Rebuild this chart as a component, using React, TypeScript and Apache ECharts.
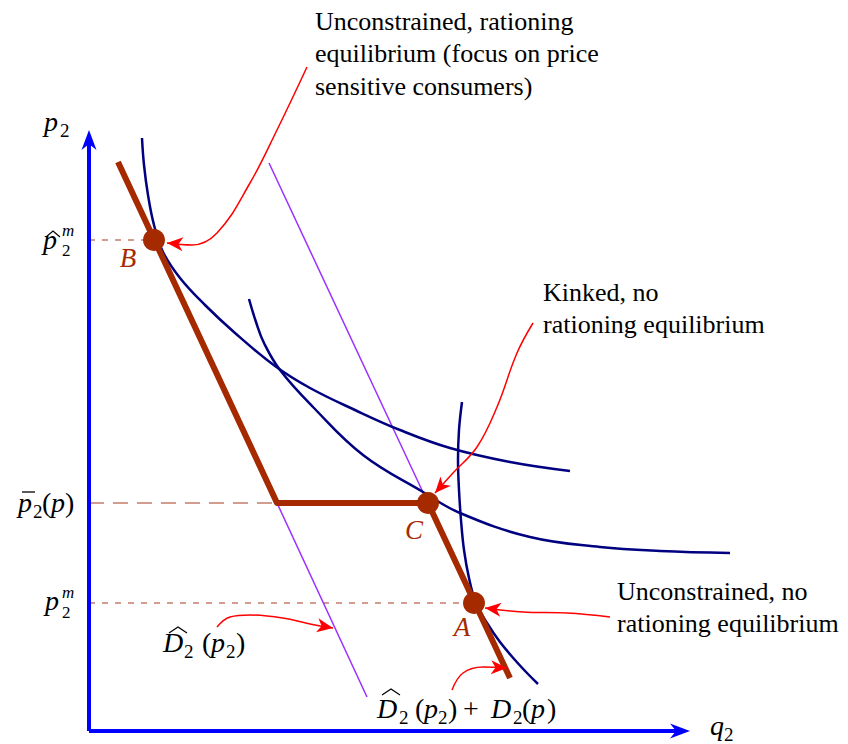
import React, { useEffect, useRef } from "react";
import * as echarts from "echarts";

// Data units: 1 unit = 1 px of the reference, origin at the corner of the axes.
const X_MAX = 759;
const Y_MAX = 731;

const xAxisLine = [[0, 0], [592, 0]];
const yAxisLine = [[0, 0], [0, 592]];
// [tipX, tipY, fromX, fromY]
const axisArrowTips = [[601, 0, 580, 0], [0, 601, 0, 580]];

const demandKinked = [[29, 569], [188, 228], [339, 228], [421, 53]];
const shiftedDemandUpper = [[180, 568], [339, 228]];
const baseDemandLower = [[188, 228], [278, 34]];

const isoCurve1 = [[53, 593], [55, 566], [59, 536], [65, 506], [74, 479], [91, 453], [116, 426], [146, 398], [186, 365], [221, 343], [266, 321], [311, 301], [361, 283], [421, 269], [481, 260]];
const isoCurve2 = [[160, 432], [167, 409], [175, 388], [191, 361], [224, 324], [274, 276], [334, 239], [371, 218], [441, 194], [511, 184], [571, 180], [641, 178]];
const isoCurve3 = [[373, 329], [370, 301], [369, 271], [370, 241], [372, 211], [375, 181], [380, 153], [387, 128], [398, 108], [411, 89], [426, 71], [438, 58], [449, 47]];

const equilibria = [
  { name: "B", value: [65, 491], labelOffset: [-26, 18] },
  { name: "C", value: [339, 228], labelOffset: [-14, 27] },
  { name: "A", value: [385, 128], labelOffset: [-12, 24] },
];

const dashPhatM = [[0, 491], [65, 491]];
const dashPbar = [[0, 228], [339, 228]];
const dashPm = [[0, 128], [385, 128]];

const annB = [[218, 664], [188, 601], [161, 548], [128, 498], [103, 486], [78, 488]];
const annC = [[444, 408], [428, 378], [408, 324], [388, 284], [364, 258], [346, 238]];
const annA = [[521, 114], [478, 118], [434, 119], [396, 123]];
const annD1 = [[128, 104], [141, 114], [161, 116], [194, 113], [221, 107], [244, 103]];
const annD2 = [[363, 41], [374, 58], [394, 64], [418, 63]];
const annotations = [annB, annC, annA, annD1, annD2];

const noteRationing = ["Unconstrained, rationing", "equilibrium (focus on price", "sensitive consumers)"];
const noteKinked = ["Kinked, no", "rationing equilibrium"];
const noteNoRationing = ["Unconstrained, no", "rationing equilibrium"];

// math label pieces: [text, x, baseline, size, italic]
type Piece = [string, number, number, number, boolean?];
const mathPieces: Piece[] = [
  ["p", 44, 131, 28, true], ["2", 60, 137, 19],
  ["q", 710, 735, 28, true], ["2", 724, 741, 19],
  ["p", 43, 249, 28, true],
  ["p", 18, 512, 28, true], ["2", 33, 518, 19], ["(", 42, 512, 28], ["p", 51, 512, 28, true], [")", 65, 512, 28],
  ["p", 45, 610, 28, true],
  ["D", 163, 652, 28, true], ["2", 184, 658, 19], ["(", 202, 652, 28], ["p", 211, 652, 28, true], ["2", 226, 658, 19], [")", 236, 652, 28],
  ["D", 377, 718, 28, true], ["2", 399, 724, 19], ["(", 415, 718, 28], ["p", 424, 718, 28, true], ["2", 438, 724, 19], [")", 448, 718, 28],
  ["+", 463, 718, 28], ["D", 491, 718, 28, true], ["2", 513, 724, 19], ["(", 522, 718, 28], ["p", 531, 718, 28, true], [")", 547, 718, 28],
];
// stacked superscript m over subscript 2: [x, centre y]
const stackedM2 = [[62, 240], [62, 602]];
const hats = [
  [[46, 237], [53, 231], [60, 237]],
  [[169, 633], [178, 627], [187, 633]],
  [[382, 695], [391, 689], [400, 695]],
];
const bars = [[[22, 492], [35, 492]]];

const FONT = "'Liberation Serif', 'Times New Roman', serif";
const BROWN = "#a52a00";
const NAVY = "#000080";
const PURPLE = "#9b30ff";
const RED = "#ff0000";
const BLUE = "#0000ff";
const DASH = "#c47d6a";

function lineSeries(data: number[][], color: string, width: number, opts: any = {}) {
  return {
    type: "line",
    data,
    showSymbol: false,
    symbol: "none",
    silent: true,
    clip: false,
    animation: false,
    lineStyle: { color, width, type: opts.dash || "solid", cap: "butt", join: "round" },
    smooth: opts.smooth || false,
    z: opts.z || 2,
  };
}

function arrowHeads(data: number[][], len: number, half: number, notch: number, color: string, z: number) {
  return {
    type: "custom",
    coordinateSystem: "cartesian2d",
    data,
    silent: true,
    clip: false,
    z,
    renderItem: (_p: any, api: any) => {
      const tip = api.coord([api.value(0), api.value(1)]);
      const from = api.coord([api.value(2), api.value(3)]);
      const dx = tip[0] - from[0];
      const dy = tip[1] - from[1];
      const L = Math.hypot(dx, dy) || 1;
      const ux = dx / L, uy = dy / L;
      const nx = -uy, ny = ux;
      const bx = tip[0] - ux * len, by = tip[1] - uy * len;
      return {
        type: "polygon",
        shape: {
          points: [
            [tip[0], tip[1]],
            [bx + nx * half, by + ny * half],
            [tip[0] - ux * len * notch, tip[1] - uy * len * notch],
            [bx - nx * half, by - ny * half],
          ],
        },
        style: { fill: color },
      };
    },
  };
}

function textEl(t: string, x: number, y: number, size: number, italic = false, color = "#000", align = "left") {
  return {
    type: "text",
    x,
    y,
    z: 100,
    silent: true,
    style: { text: t, fontFamily: FONT, fontSize: size, fontStyle: italic ? "italic" : "normal", fill: color, align, verticalAlign: "middle" },
  };
}

export default function App() {
  const ref = useRef<HTMLDivElement>(null);
  useEffect(() => {
    if (!ref.current) return;
    const chart = echarts.init(ref.current, null, { renderer: "svg" });

    const graphics: any[] = [];
    noteRationing.forEach((t, i) => graphics.push(textEl(t, 315, 21 + i * 32.5, 26)));
    noteKinked.forEach((t, i) => graphics.push(textEl(t, 543, 292.5 + i * 32, 26)));
    noteNoRationing.forEach((t, i) => graphics.push(textEl(t, 617, 591 + i * 32, 26)));
    mathPieces.forEach(([t, x, b, s, it]) => graphics.push(textEl(t, x, b - 0.3375 * s, s, !!it)));
    stackedM2.forEach(([x, y]) =>
      graphics.push({
        type: "text",
        x,
        y,
        z: 100,
        silent: true,
        style: {
          text: "{m|m}\n{s|2}",
          align: "left",
          verticalAlign: "middle",
          rich: {
            m: { fontFamily: FONT, fontSize: 17, fontStyle: "italic", fill: "#000", lineHeight: 20 },
            s: { fontFamily: FONT, fontSize: 17, fill: "#000", lineHeight: 20 },
          },
        },
      })
    );
    hats.forEach((pts) =>
      graphics.push({ type: "polyline", z: 100, silent: true, shape: { points: pts }, style: { stroke: "#000", lineWidth: 1.2, fill: null } })
    );
    bars.forEach((pts) =>
      graphics.push({ type: "line", z: 100, silent: true, shape: { x1: pts[0][0], y1: pts[0][1], x2: pts[1][0], y2: pts[1][1] }, style: { stroke: "#000", lineWidth: 1.3 } })
    );

    const series: any[] = [
      lineSeries(dashPhatM, DASH, 1.5, { dash: [6, 7], z: 1 }),
      lineSeries(dashPbar, DASH, 1.5, { dash: [15, 9], z: 1 }),
      lineSeries(dashPm, DASH, 1.5, { dash: [6, 7], z: 1 }),
      lineSeries(shiftedDemandUpper, PURPLE, 1.5, { z: 2 }),
      lineSeries(baseDemandLower, PURPLE, 1.5, { z: 2 }),
      lineSeries(isoCurve1, NAVY, 2.5, { smooth: 0.4, z: 3 }),
      lineSeries(isoCurve2, NAVY, 2.5, { smooth: 0.4, z: 3 }),
      lineSeries(isoCurve3, NAVY, 2.5, { smooth: 0.4, z: 3 }),
      lineSeries(demandKinked, BROWN, 6, { z: 4 }),
      {
        type: "scatter",
        data: equilibria.map((e) => ({
          name: e.name,
          value: e.value,
          label: { offset: e.labelOffset },
        })),
        symbol: "circle",
        symbolSize: 22,
        itemStyle: { color: BROWN, opacity: 1 },
        silent: true,
        clip: false,
        z: 5,
        label: {
          show: true,
          position: "inside",
          formatter: (p: any) => p.name,
          fontFamily: FONT,
          fontStyle: "italic",
          fontSize: 27,
          color: BROWN,
        },
      },
      lineSeries(xAxisLine, BLUE, 4, { z: 6 }),
      lineSeries(yAxisLine, BLUE, 4, { z: 6 }),
      arrowHeads(axisArrowTips, 20, 7.5, 0.7, BLUE, 7),
      ...annotations.map((a) => lineSeries(a, RED, 1.5, { smooth: 0.4, z: 8 })),
      arrowHeads(annotations.map((a) => [a[a.length - 1][0], a[a.length - 1][1], a[a.length - 2][0], a[a.length - 2][1]]), 16, 7, 0.72, RED, 9),
    ];

    chart.setOption({
      animation: false,
      grid: { left: 89, right: 0, top: 0, bottom: 13 },
      xAxis: { type: "value", min: 0, max: X_MAX, show: false },
      yAxis: { type: "value", min: 0, max: Y_MAX, show: false },
      series,
      graphic: { elements: graphics },
    });
    return () => chart.dispose();
  }, []);
  return <div ref={ref} style={{ position: "absolute", left: 0, top: 0, width: 848, height: 744, background: "#fff" }} />;
}
